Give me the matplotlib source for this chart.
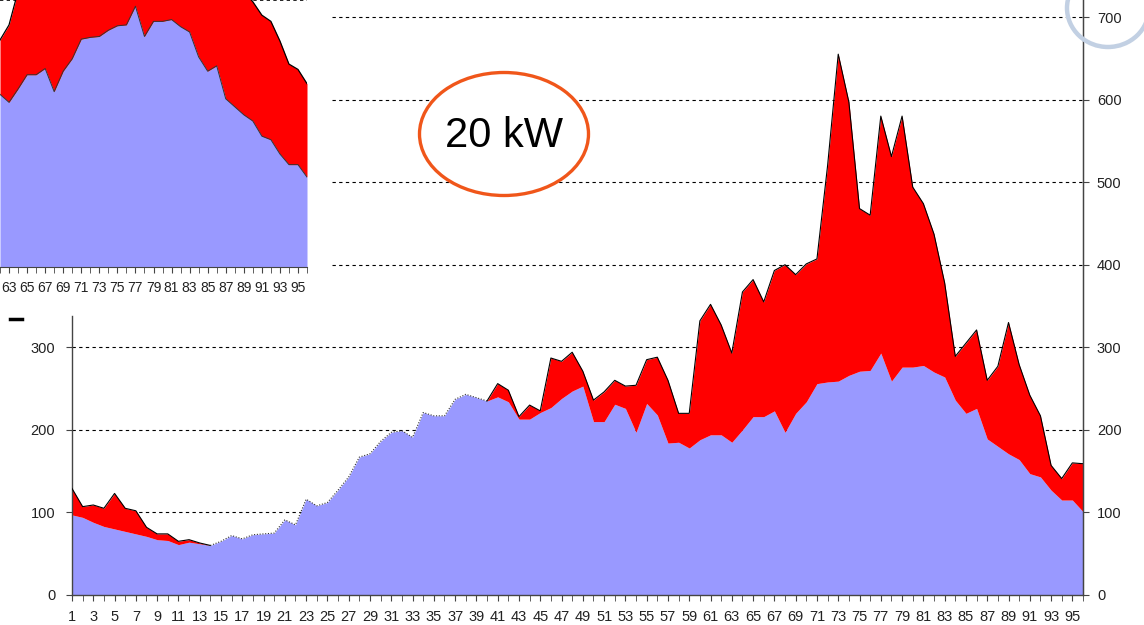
import numpy as np
import matplotlib
matplotlib.use('Agg')
import matplotlib.pyplot as plt
from matplotlib.patches import Ellipse

plt.rcParams['font.family'] = ['Liberation Sans', 'DejaVu Sans']

# quarter-hour slots 1..96
slots = list(range(1, 97))

# base load (blue area)
base = [97, 94, 88, 83, 80, 77, 74, 71, 67, 66, 61, 64, 62, 60, 65, 72,
        68, 73, 74, 75, 91, 85, 116, 108, 112, 127, 143, 167, 171, 186, 197, 199,
        191, 221, 217, 217, 237, 243, 239, 235, 240, 234, 213, 213, 221, 227, 238, 247,
        253, 210, 210, 231, 226, 197, 232, 218, 184, 185, 178, 188, 194, 194, 185, 200,
        216, 216, 223, 197, 220, 234, 256, 258, 259, 266, 271, 272, 293, 259, 276, 276,
        278, 270, 264, 236, 220, 226, 189, 180, 171, 164, 147, 143, 127, 115, 115, 101]

# base + extra load (top of red area), 20 kW case
total = [129, 107, 109, 105, 123, 105, 102, 82, 74, 74, 65, 67, 63, 60, 65, 72,
         68, 73, 74, 75, 91, 85, 116, 108, 112, 127, 143, 167, 171, 186, 197, 199,
         191, 221, 217, 217, 237, 243, 239, 235, 256, 248, 216, 230, 223, 287, 283, 294,
         271, 236, 246, 260, 253, 254, 285, 288, 260, 220, 220, 332, 352, 327, 293, 367,
         382, 355, 393, 400, 388, 401, 407, 520, 655, 597, 468, 460, 580, 531, 580, 494,
         474, 437, 378, 289, 305, 321, 260, 277, 330, 279, 242, 217, 157, 141, 160, 159]

# inset chart (other case), slots 62..96
inset_slots = list(range(62, 97))
inset_total = [255, 272, 310, 330, 340, 350, 345, 360, 370, 380, 400, 420, 410, 400,
               405, 420, 410, 415, 405, 395, 385, 370, 355, 345, 340, 330, 320, 310,
               298, 283, 276, 254, 228, 222, 206]

left_ticks = [0, 100, 200, 300]
right_ticks = [0, 100, 200, 300, 400, 500, 600, 700]

BLUE = '#9999FF'
RED = '#FF0000'
W, H = 1144, 625

x = np.array(slots)
base = np.array(base)
total = np.array(total)

fig = plt.figure(figsize=(W / 100, H / 100), dpi=100)
fig.patch.set_facecolor('white')

# main chart
ax = fig.add_axes([72 / W, 30 / H, 1011 / W, 595 / H])
ax.set_xlim(1, 96)
ax.set_ylim(0, 720.6)
for y in right_ticks[1:]:
    ax.axhline(y, color='black', lw=0.8, ls=(0, (3, 3)), zorder=1)
ax.fill_between(x, 0, base, color=BLUE, lw=0, zorder=2)
ax.fill_between(x, base, total, color=RED, lw=0, zorder=2)
has_red = total > base
solid = has_red.copy()
solid[1:] |= has_red[:-1]
solid[:-1] |= has_red[1:]
ax.plot(x, np.ma.masked_where(~solid, total), color='black', lw=0.8, zorder=3)
ax.plot(x, np.ma.masked_where(solid & has_red, total), color='#333333', lw=0.8,
        ls=(0, (1, 1.5)), zorder=3)

ax.spines['top'].set_visible(False)
ax.spines['left'].set_bounds(0, 338)
for s in ['left', 'right', 'bottom']:
    ax.spines[s].set_color('#444444')
    ax.spines[s].set_linewidth(1)
ax.set_yticks(left_ticks)
ax.set_xticks(slots, minor=True)
ax.set_xticks(slots[::2])
ax.tick_params(axis='x', which='both', length=4, color='#444444', direction='out')
ax.tick_params(axis='x', which='major', labelsize=10.5, labelcolor='#222222', pad=7)
ax.tick_params(axis='y', length=4, color='#444444', labelsize=10.5,
               labelcolor='#222222', pad=8)

ax2 = ax.twinx()
ax2.set_ylim(ax.get_ylim())
ax2.set_yticks(right_ticks)
for s in ['top', 'left', 'bottom']:
    ax2.spines[s].set_visible(False)
ax2.spines['right'].set_color('#444444')
ax2.tick_params(axis='y', length=4, color='#444444', labelsize=10.5,
                labelcolor='#222222', pad=6)

# white block behind the inset
cover = fig.add_axes([0, 1 - 298 / H, 330 / W, 298 / H])
cover.set_axis_off()
cover.add_patch(plt.Rectangle((0, 0), 1, 1, color='white', transform=cover.transAxes))

# inset chart (cropped copy of another case)
ix = np.array(inset_slots)
ibase = base[ix - 1]
itotal = np.array(inset_total)
ins = fig.add_axes([0, 1 - 267 / H, 307 / W, 267 / H])
ins.set_xlim(62.45, 96)
ins.set_ylim(0, 300)
ins.axhline(300, color='black', lw=1.2, ls=(0, (2, 2)), zorder=1, clip_on=False)
ins.fill_between(ix, 0, ibase, color=BLUE, lw=0, zorder=2)
ins.fill_between(ix, ibase, itotal, color=RED, lw=0, zorder=2)
ins.plot(ix, ibase, color='#333333', lw=0.7, zorder=3)
ins.plot(ix, itotal, color='black', lw=0.9, zorder=3)
for s in ['top', 'left', 'right']:
    ins.spines[s].set_visible(False)
ins.spines['bottom'].set_color('#444444')
ins.set_yticks([])
ins.set_xticks(inset_slots, minor=True)
ins.set_xticks(inset_slots[1::2])
ins.tick_params(axis='x', which='both', length=4, color='#444444')
ins.tick_params(axis='x', which='major', labelsize=10, labelcolor='#222222', pad=6)

# annotations drawn on top
over = fig.add_axes([0, 0, 1, 1])
over.set_xlim(0, W)
over.set_ylim(H, 0)
over.set_axis_off()
over.add_patch(Ellipse((504, 134), 169, 123, facecolor='white',
                       edgecolor='#F0561A', lw=2.4))
over.text(504, 136, '20 kW', fontsize=30, ha='center', va='center', color='black')
over.add_patch(Ellipse((1108, 8), 82, 78, facecolor='none',
                       edgecolor='#C2D0E3', lw=3.2))
over.plot([10, 22], [319, 319], color='black', lw=2.5)

fig.savefig('out.png', dpi=100)
